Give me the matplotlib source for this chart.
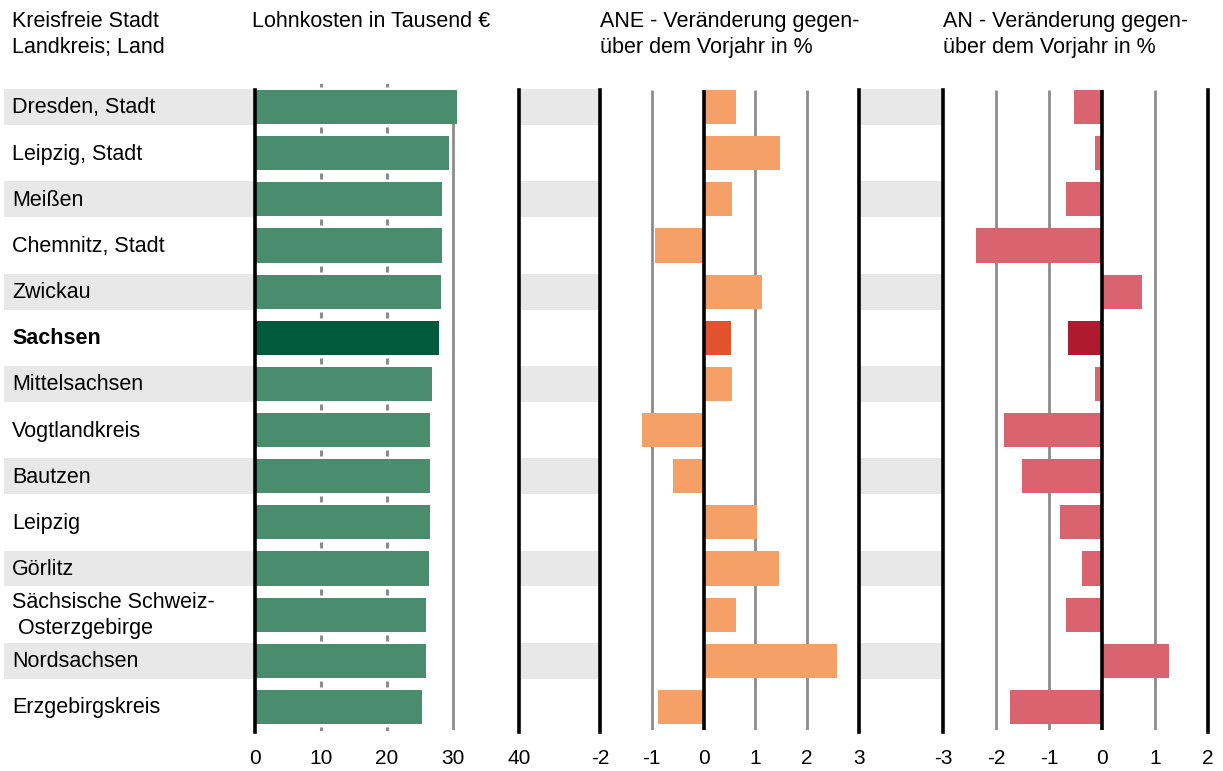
import matplotlib
matplotlib.use("Agg")
import matplotlib.pyplot as plt
import numpy as np

plt.rcParams['font.family'] = ['Liberation Sans', 'DejaVu Sans']

regions = ["Dresden, Stadt", "Leipzig, Stadt", "Meißen", "Chemnitz, Stadt", "Zwickau",
           "Sachsen", "Mittelsachsen", "Vogtlandkreis", "Bautzen", "Leipzig", "Görlitz",
           "Sächsische Schweiz-\n Osterzgebirge", "Nordsachsen", "Erzgebirgskreis"]
lohnkosten = [30.6, 29.4, 28.3, 28.3, 28.2, 27.9, 26.8, 26.5, 26.5, 26.5, 26.4, 25.9, 25.9, 25.3]
ane_change = [0.63, 1.48, 0.54, -0.94, 1.12, 0.52, 0.54, -1.19, -0.60, 1.04, 1.46, 0.62, 2.58, -0.88]
an_change = [-0.53, -0.13, -0.68, -2.38, 0.75, -0.64, -0.13, -1.85, -1.51, -0.79, -0.38, -0.68, 1.26, -1.74]
highlight = "Sachsen"

ticks1 = [0, 10, 20, 30, 40]
ticks2 = [-2, -1, 0, 1, 2, 3]
ticks3 = [-3, -2, -1, 0, 1, 2]

W, H = 1223, 771
fig = plt.figure(figsize=(W / 100, H / 100), dpi=100)

n = len(regions)
y = np.arange(n)
top_px, bot_px = 84, 730
ax_bottom = 1 - bot_px / H
ax_height = (bot_px - top_px) / H

# background stripes
bg = fig.add_axes([4 / W, ax_bottom, 1201 / W, ax_height], zorder=0)
bg.set_xlim(0, 1)
bg.set_ylim(n - 0.5, -0.5)
bg.axis('off')
for i in range(0, n, 2):
    bg.axhspan(i - 0.39, i + 0.39, color='#e8e8e8', lw=0)

hl = [r == highlight for r in regions]
bar_h = 0.74
y_lo, y_hi = n - 0.45, -0.38

def make_panel(left_px, right_px, xlim, ticks, black, grey, dotted, vals, col, hcol):
    ax = fig.add_axes([left_px / W, ax_bottom, (right_px - left_px) / W, ax_height], zorder=2)
    ax.set_facecolor('white')
    ax.set_xlim(*xlim)
    ax.set_ylim(n - 0.5, -0.5)
    for s in ['top', 'bottom']:
        ax.spines[s].set_visible(False)
    for s in ['left', 'right']:
        ax.spines[s].set_linewidth(2.6)
        ax.spines[s].set_color('black')
        ax.spines[s].set_bounds(y_lo, y_hi)
    for g in grey:
        ax.vlines(g, y_lo, y_hi, color='#8c8c8c', lw=2.0, zorder=1)
    for g in black:
        ax.vlines(g, y_lo, y_hi, color='black', lw=2.6, zorder=3)
    for g in dotted:
        ax.plot([g] * n, np.arange(n) + 0.5, ls='none', marker='|',
                ms=5, mew=2.2, color='#8c8c8c', zorder=1)
        ax.plot([g], [-0.5], ls='none', marker='|', ms=5, mew=2.2, color='#8c8c8c', zorder=1)
    colors = [hcol if h else col for h in hl]
    ax.barh(y, vals, height=bar_h, color=colors, zorder=2)
    ax.set_yticks([])
    ax.set_xticks(ticks)
    ax.set_xticklabels([str(t) for t in ticks], fontsize=15)
    ax.tick_params(axis='x', length=0, pad=14)
    return ax

ax1 = make_panel(255, 519, (0, 40), ticks1, [], [30], [10, 20], lohnkosten, '#4a8c6e', '#005a3c')
ax2 = make_panel(600, 859, (-2, 3), ticks2, [0], [-1, 1, 2], [], ane_change, '#f4a066', '#e2522c')
ax3 = make_panel(943, 1208, (-3, 2), ticks3, [0], [-2, -1, 1], [], an_change, '#d9636f', '#b01a30')

# row labels
for i, r in enumerate(regions):
    fig.text(12 / W, 1 - (108 + i * 46.15) / H, r, fontsize=15.5, va='center', ha='left',
             fontweight='bold' if r == highlight else 'normal', linespacing=1.3)

# headers
fs_h = 15.5
fig.text(12 / W, 1 - 11 / H, "Kreisfreie Stadt\nLandkreis; Land", fontsize=fs_h, va='top', ha='left', linespacing=1.3)
fig.text(252 / W, 1 - 11 / H, "Lohnkosten in Tausend €", fontsize=fs_h, va='top', ha='left')
fig.text(600 / W, 1 - 11 / H, "ANE - Veränderung gegen-\nüber dem Vorjahr in %", fontsize=fs_h, va='top', ha='left', linespacing=1.3)
fig.text(943 / W, 1 - 11 / H, "AN - Veränderung gegen-\nüber dem Vorjahr in %", fontsize=fs_h, va='top', ha='left', linespacing=1.3)

fig.savefig("out.png", dpi=100)
